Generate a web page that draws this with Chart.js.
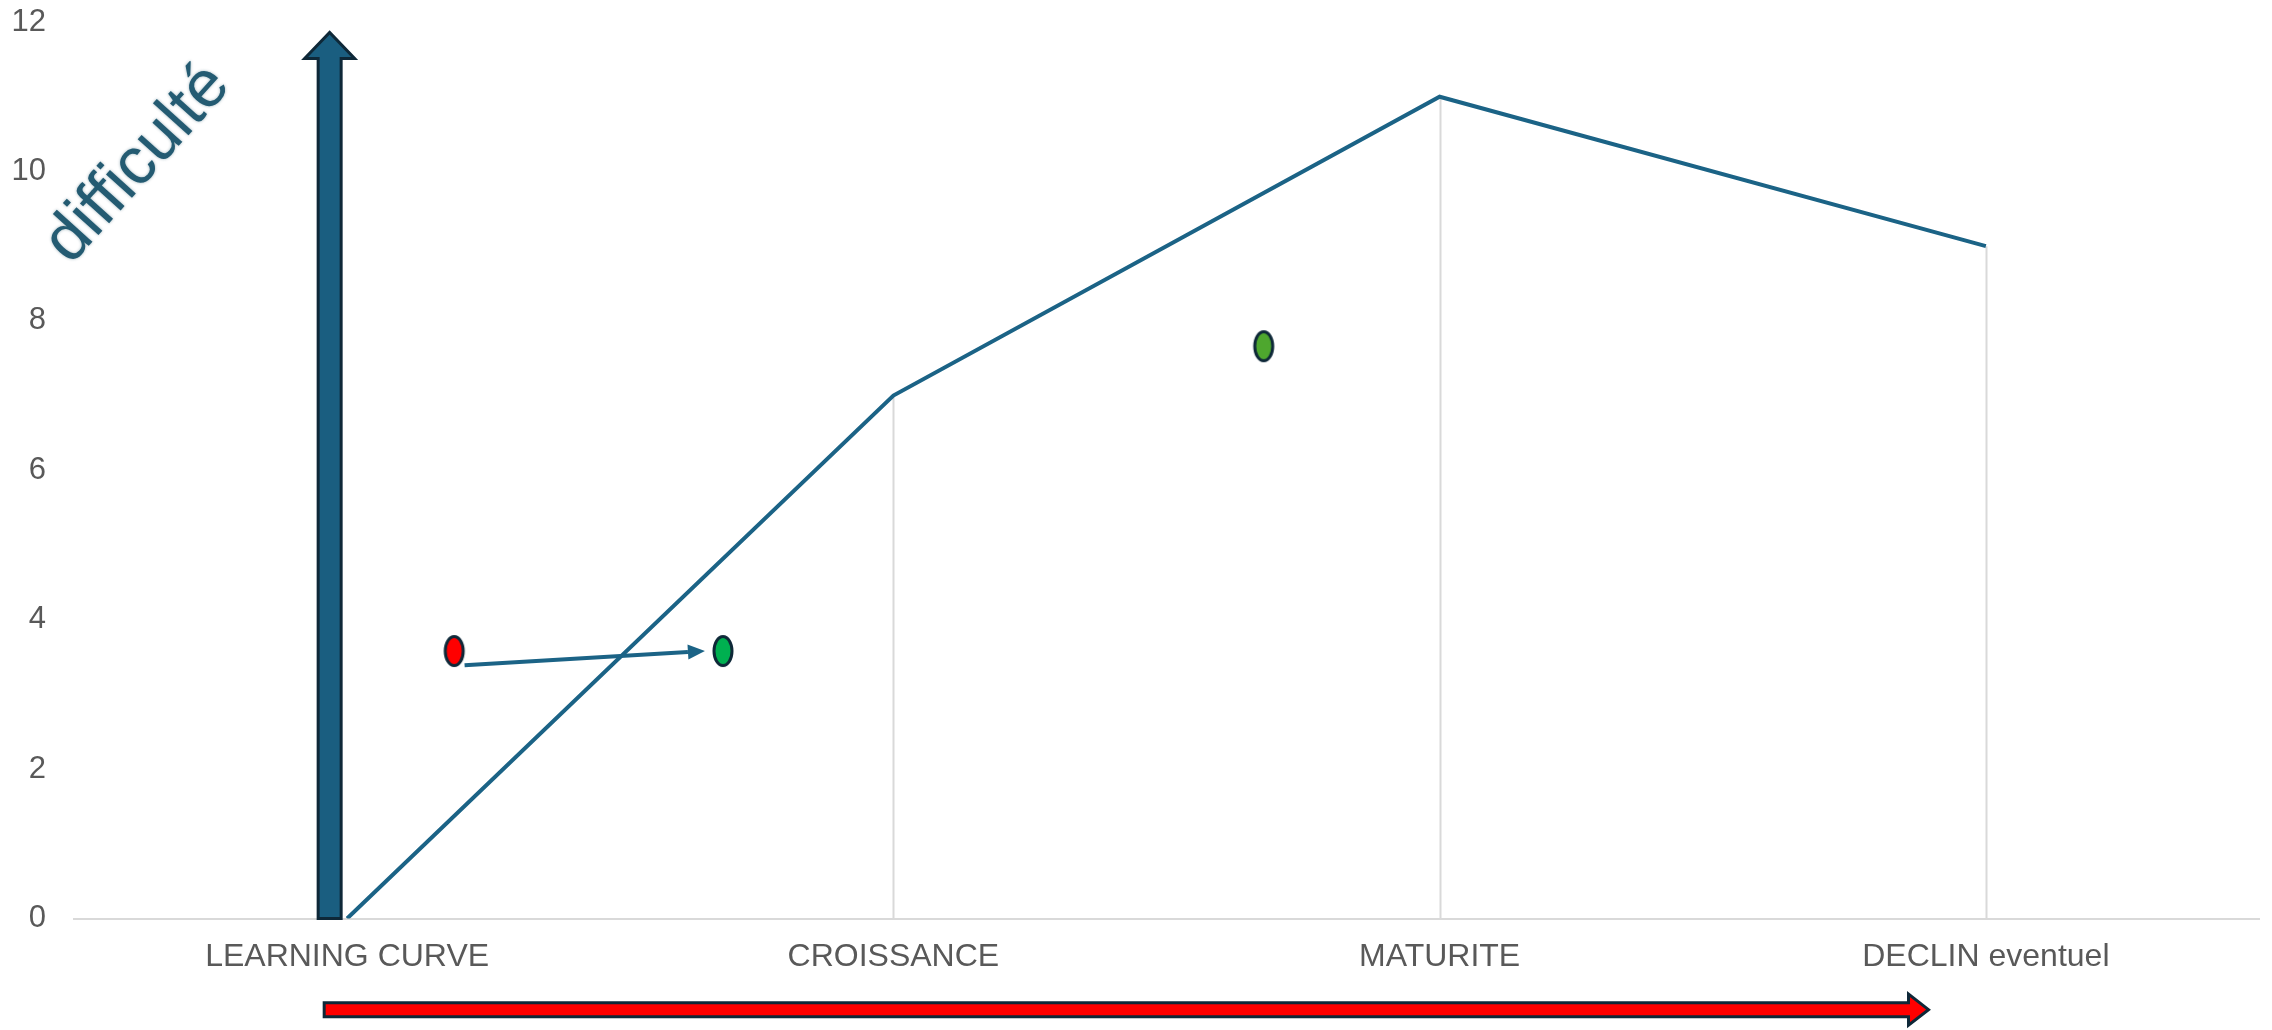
<!DOCTYPE html>
<html lang="fr">
<head>
<meta charset="utf-8">
<title>Cycle de vie – difficulté</title>
<script src="https://cdn.jsdelivr.net/npm/chart.js@4/dist/chart.umd.min.js"></script>
<style>
  html, body { margin: 0; padding: 0; background: #fff; }
  #wrap { width: 2272px; height: 1030px; position: relative; }
</style>
</head>
<body>
<div id="wrap"><canvas id="chart"></canvas></div>
<script>
// ── Data ─────────────────────────────────────────────────
const phases = ["LEARNING CURVE", "CROISSANCE", "MATURITE", "DECLIN eventuel"];
const difficulty = [0, 7, 11, 9];
const yTicks = [0, 2, 4, 6, 8, 10, 12];

// repères posés sur la courbe (x en phases, y en difficulté)
const markerX = [0.196, 0.688, 1.678];
const markerY = [3.58, 3.58, 7.66];

// ── Décors, ancrés en unités du graphique ────────────────
const moveArrow = { from: [0.215, 3.39], to: [0.655, 3.58] };
const riseArrow = { x: -0.032, from: 0, to: 11.86 };
const timeArrow = { y: -1.22, from: -0.042, to: 2.895 };
const axisTitle = { x: -0.383, y: 10.1, text: "difficulté" };

// ── Styles ───────────────────────────────────────────────
const FONT = '"Liberation Sans", Arial, sans-serif';
const INK = "#595959";
const BLUE = "#1B6386";
const BLUE_FILL = "#1A5E80";
const NAVY = "#0E2838";
const GRID = "#D9D9D9";
const markerColors = ["#FF0000", "#00B050", "#4EA72E"];

function ellipseImg(fill) {
  const c = document.createElement("canvas");
  c.width = 24;
  c.height = 34;
  const g = c.getContext("2d");
  g.beginPath();
  g.ellipse(12, 17, 9, 14.5, 0, 0, Math.PI * 2);
  g.fillStyle = fill;
  g.fill();
  g.lineWidth = 3;
  g.strokeStyle = NAVY;
  g.stroke();
  return c;
}

function blockArrow(ctx, x0, y0, x1, y1, shaft, headW, headL, fill) {
  const len = Math.hypot(x1 - x0, y1 - y0);
  ctx.save();
  ctx.translate(x0, y0);
  ctx.rotate(Math.atan2(y1 - y0, x1 - x0));
  ctx.beginPath();
  ctx.moveTo(0, -shaft / 2);
  ctx.lineTo(len - headL, -shaft / 2);
  ctx.lineTo(len - headL, -headW / 2);
  ctx.lineTo(len, 0);
  ctx.lineTo(len - headL, headW / 2);
  ctx.lineTo(len - headL, shaft / 2);
  ctx.lineTo(0, shaft / 2);
  ctx.closePath();
  ctx.fillStyle = fill;
  ctx.fill();
  ctx.lineWidth = 3;
  ctx.lineJoin = "miter";
  ctx.strokeStyle = NAVY;
  ctx.stroke();
  ctx.restore();
}

function lineArrow(ctx, x0, y0, x1, y1) {
  const ang = Math.atan2(y1 - y0, x1 - x0);
  const headL = 17, headW = 15;
  ctx.save();
  ctx.strokeStyle = BLUE;
  ctx.fillStyle = BLUE;
  ctx.lineWidth = 4;
  ctx.beginPath();
  ctx.moveTo(x0, y0);
  ctx.lineTo(x1 - Math.cos(ang) * headL, y1 - Math.sin(ang) * headL);
  ctx.stroke();
  ctx.translate(x1, y1);
  ctx.rotate(ang);
  ctx.beginPath();
  ctx.moveTo(0, 0);
  ctx.lineTo(-headL, -headW / 2);
  ctx.lineTo(-headL, headW / 2);
  ctx.closePath();
  ctx.fill();
  ctx.restore();
}

// lignes de projection de chaque point vers l'axe
const dropLines = {
  id: "dropLines",
  beforeDatasetsDraw(chart) {
    const { ctx, chartArea } = chart;
    const meta = chart.getDatasetMeta(0);
    ctx.save();
    ctx.strokeStyle = GRID;
    ctx.lineWidth = 2;
    meta.data.forEach((pt) => {
      if (pt.y >= chartArea.bottom - 1) return;
      ctx.beginPath();
      ctx.moveTo(Math.round(pt.x) + 0.5, pt.y);
      ctx.lineTo(Math.round(pt.x) + 0.5, chartArea.bottom);
      ctx.stroke();
    });
    ctx.restore();
  },
};

const decorations = {
  id: "decorations",
  afterDraw(chart) {
    const { ctx } = chart;
    const xs = chart.scales.x;
    const ys = chart.scales.y;
    const px = (v) => xs.getPixelForValue(v);
    const py = (v) => ys.getPixelForValue(v);

    // flèche verticale : la difficulté
    blockArrow(ctx, px(riseArrow.x), py(riseArrow.from), px(riseArrow.x), py(riseArrow.to), 23, 50, 26, BLUE_FILL);

    // flèche horizontale : le temps
    blockArrow(ctx, px(timeArrow.from), py(timeArrow.y), px(timeArrow.to), py(timeArrow.y), 14, 31, 20, "#FF0000");

    // déplacement du repère rouge vers le vert
    lineArrow(ctx, px(moveArrow.from[0]), py(moveArrow.from[1]), px(moveArrow.to[0]), py(moveArrow.to[1]));

    // titre oblique
    ctx.save();
    ctx.translate(px(axisTitle.x), py(axisTitle.y));
    ctx.rotate(-48 * Math.PI / 180);
    ctx.font = `66px ${FONT}`;
    ctx.textAlign = "center";
    ctx.textBaseline = "middle";
    ctx.shadowColor = "rgba(30,80,100,0.45)";
    ctx.shadowBlur = 3;
    ctx.fillStyle = "#245B72";
    ctx.fillText(axisTitle.text, 0, 0);
    ctx.restore();
  },
};

new Chart(document.getElementById("chart"), {
  type: "line",
  data: {
    datasets: [
      {
        data: difficulty.map((v, i) => ({ x: i, y: v })),
        borderColor: BLUE,
        borderWidth: 4,
        pointRadius: 0,
        tension: 0,
        order: 1,
      },
      {
        data: markerX.map((x, i) => ({ x, y: markerY[i] })),
        showLine: false,
        pointStyle: markerColors.map(ellipseImg),
        pointRadius: 12,
        order: 0,
      },
    ],
  },
  options: {
    responsive: true,
    maintainAspectRatio: false,
    devicePixelRatio: 1,
    animation: false,
    layout: { padding: { left: 0, right: 10, top: 22, bottom: 0 } },
    plugins: { legend: { display: false }, tooltip: { enabled: false } },
    scales: {
      x: {
        type: "linear",
        min: -0.5,
        max: 3.5,
        grid: { display: false },
        border: { display: true, color: GRID, width: 2 },
        afterFit: (s) => { s.height = 111.5; },
        afterBuildTicks: (s) => { s.ticks = phases.map((_, i) => ({ value: i })); },
        ticks: {
          color: INK,
          font: { family: FONT, size: 32 },
          padding: 11,
          maxRotation: 0,
          autoSkip: false,
          callback: (v) => phases[v] ?? "",
        },
      },
      y: {
        min: 0,
        max: 12,
        grid: { display: false },
        border: { display: false },
        afterFit: (s) => {
          s.width = 74;
          s.paddingTop = 0;
          s.paddingBottom = 0;
        },
        afterBuildTicks: (s) => { s.ticks = yTicks.map((v) => ({ value: v })); },
        ticks: {
          color: INK,
          font: { family: FONT, size: 31 },
          padding: 20,
        },
      },
    },
  },
  plugins: [dropLines, decorations],
});
</script>
</body>
</html>
